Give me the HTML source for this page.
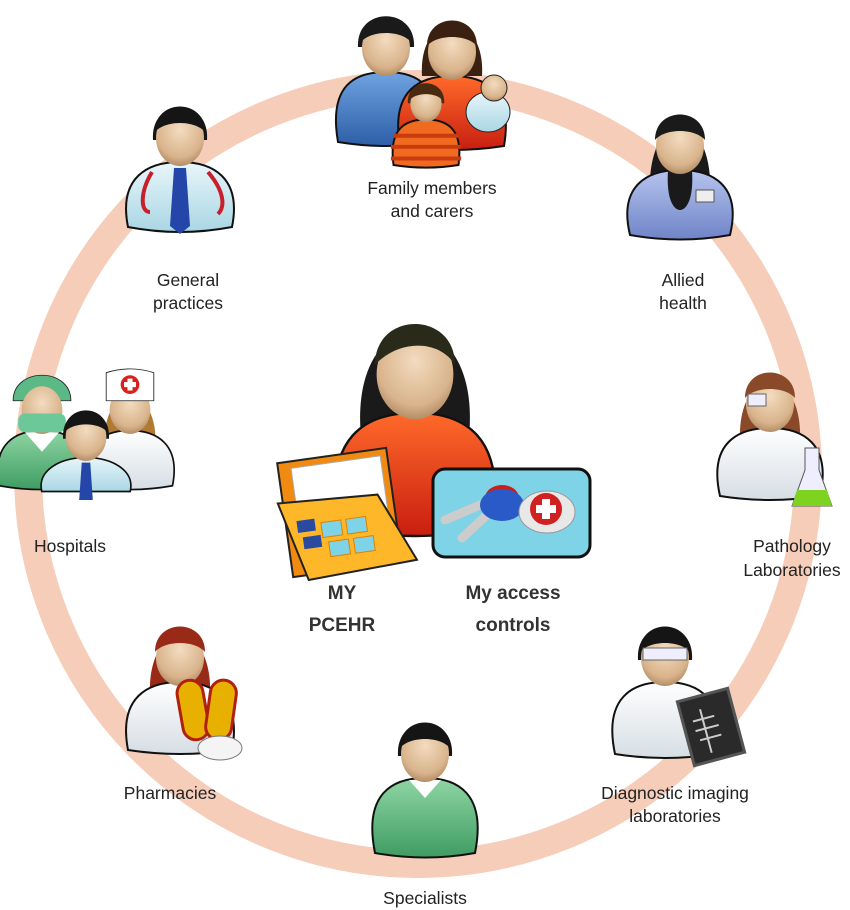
<!DOCTYPE html>
<html><head><meta charset="utf-8"><style>
html,body{margin:0;padding:0;background:#fff;}
svg{display:block;}
text{font-family:"Liberation Sans",sans-serif;font-size:17.5px;fill:#222;text-anchor:middle;}
.big{font-size:19px;font-weight:bold;fill:#333;}
</style></head><body>
<svg width="850" height="910" viewBox="0 0 850 910" xmlns="http://www.w3.org/2000/svg">
<defs>
<radialGradient id="skin" cx="0.5" cy="0.35" r="0.7"><stop offset="0" stop-color="#f3dcc0"/><stop offset="0.7" stop-color="#d9b48c"/><stop offset="1" stop-color="#a8825c"/></radialGradient>
<linearGradient id="red" x1="0" y1="0" x2="0" y2="1"><stop offset="0" stop-color="#ff6a2a"/><stop offset="1" stop-color="#c81e10"/></linearGradient>
<linearGradient id="wht" x1="0" y1="0" x2="0" y2="1"><stop offset="0" stop-color="#ffffff"/><stop offset="1" stop-color="#d6dee4"/></linearGradient>
<linearGradient id="lb" x1="0" y1="0" x2="0" y2="1"><stop offset="0" stop-color="#e8f6fa"/><stop offset="1" stop-color="#a9d6e4"/></linearGradient>
<linearGradient id="blu" x1="0" y1="0" x2="0" y2="1"><stop offset="0" stop-color="#6fa3e0"/><stop offset="1" stop-color="#2d5ea8"/></linearGradient>
<linearGradient id="lav" x1="0" y1="0" x2="0" y2="1"><stop offset="0" stop-color="#b6c4ee"/><stop offset="1" stop-color="#6f84c8"/></linearGradient>
<linearGradient id="grn" x1="0" y1="0" x2="0" y2="1"><stop offset="0" stop-color="#8fd6a4"/><stop offset="1" stop-color="#3f9c62"/></linearGradient>
</defs>

<circle cx="418" cy="474" r="390" fill="none" stroke="#f6cdb9" stroke-width="28"/>

<!-- Family -->
<g transform="translate(386,42)">
<path d="M-28,5 C-30,-36 30,-36 28,5 Z" fill="#1a1a1a"/>
<path d="M-48,100 C-58,42 -30,30 0,30 C30,30 58,42 48,100 Q0,108 -48,100 Z" fill="url(#blu)" stroke="#111" stroke-width="2"/>
<ellipse cx="0" cy="6" rx="24" ry="28" fill="url(#skin)"/>
<path d="M-25,0 C-25,-34 25,-34 25,0 C15,-12 -15,-12 -25,0 Z" fill="#1a1a1a"/>
</g>
<g transform="translate(452,46)">
<path d="M-30,30 C-34,-38 34,-38 30,30 Z" fill="#3a2010"/>
<path d="M-52,100 C-62,42 -30,30 0,30 C30,30 62,42 52,100 Q0,108 -52,100 Z" fill="url(#red)" stroke="#111" stroke-width="2"/>
<ellipse cx="0" cy="6" rx="24" ry="28" fill="url(#skin)"/>
<path d="M-25,0 C-25,-34 25,-34 25,0 C15,-12 -15,-12 -25,0 Z" fill="#3a2010"/>
</g>
<ellipse cx="488" cy="112" rx="22" ry="20" fill="url(#lb)" stroke="#222"/>
<circle cx="494" cy="88" r="13" fill="url(#skin)" stroke="#222"/>
<g transform="translate(426,100) scale(0.65)">
<path d="M-28,5 C-30,-36 30,-36 28,5 Z" fill="#4a2a10"/>
<path d="M-50,100 C-58,42 -30,30 0,30 C30,30 58,42 50,100 Q0,108 -50,100 Z" fill="#f06a20" stroke="#111" stroke-width="3"/>
<path d="M-50,55 H50 M-54,72 H54 M-54,90 H54" stroke="#c83a10" stroke-width="6"/>
<ellipse cx="0" cy="6" rx="24" ry="28" fill="url(#skin)"/>
<path d="M-25,0 C-25,-34 25,-34 25,0 C15,-12 -15,-12 -25,0 Z" fill="#4a2a10"/>
</g>
<text x="432" y="194">Family members</text>
<text x="432" y="217">and carers</text>

<!-- GP -->
<g transform="translate(180,132)">
<path d="M-27,8 C-30,-36 30,-36 27,8 Z" fill="#151515"/>
<path d="M-52,95 C-62,45 -32,30 0,30 C32,30 62,45 52,95 Q0,105 -52,95 Z" fill="url(#lb)" stroke="#111" stroke-width="2"/>
<path d="M-6,36 L6,36 L10,94 L0,102 L-10,94 Z" fill="#2346a8"/>
<path d="M-28,40 C-40,60 -40,80 -30,80 M28,40 C45,60 45,75 38,82" stroke="#c8202a" stroke-width="4" fill="none"/>
<ellipse cx="0" cy="6" rx="24" ry="28" fill="url(#skin)"/>
<path d="M-25,0 C-25,-34 25,-34 25,0 C15,-12 -15,-12 -25,0 Z" fill="#151515"/>
</g>
<text x="188" y="286">General</text>
<text x="188" y="309">practices</text>

<!-- Allied -->
<g transform="translate(680,140)">
<path d="M-30,60 C-36,-38 36,-38 30,60 Z" fill="#1a1a1a"/>
<path d="M-50,95 C-62,45 -32,30 0,30 C32,30 62,45 50,95 Q0,104 -50,95 Z" fill="url(#lav)" stroke="#111" stroke-width="2"/>
<path d="M-12,30 C-14,60 -6,70 0,70 C6,70 14,60 12,30 Z" fill="#1a1a1a"/>
<rect x="16" y="50" width="18" height="12" fill="#eee" stroke="#555"/>
<ellipse cx="0" cy="6" rx="24" ry="28" fill="url(#skin)"/>
<path d="M-25,0 C-25,-34 25,-34 25,0 C15,-12 -15,-12 -25,0 Z" fill="#1a1a1a"/>
</g>
<text x="683" y="286">Allied</text>
<text x="683" y="309">health</text>

<!-- Hospitals -->
<g transform="translate(42,405) scale(0.85)">
<path d="M-34,-5 C-34,-45 34,-45 34,-5 Z" fill="#5bb985" stroke="#222"/>
<path d="M-50,95 C-60,45 -30,30 0,30 C30,30 60,45 50,95 Q0,104 -50,95 Z" fill="url(#grn)" stroke="#111" stroke-width="2"/>
<path d="M-20,32 L0,55 L20,32" fill="#fff"/>
<ellipse cx="0" cy="6" rx="24" ry="28" fill="url(#skin)"/>
<rect x="-28" y="10" width="56" height="22" rx="8" fill="#6cc898"/>
</g>
<g transform="translate(130,405) scale(0.85)">
<path d="M-30,50 C-34,-30 34,-30 30,50 Z" fill="#b07a30"/>
<path d="M-50,95 C-60,45 -30,30 0,30 C30,30 60,45 50,95 Q0,104 -50,95 Z" fill="url(#wht)" stroke="#111" stroke-width="2"/>
<ellipse cx="0" cy="6" rx="24" ry="28" fill="url(#skin)"/>
<path d="M-28,-5 L-28,-38 C-10,-44 10,-44 28,-38 L28,-5 Z" fill="#fff" stroke="#222"/>
<circle cx="0" cy="-24" r="11" fill="#d8201c"/>
<path d="M-3,-31 h6 v4 h4 v6 h-4 v4 h-6 v-4 h-4 v-6 h4 z" fill="#fff"/>
</g>
<g transform="translate(86,432) scale(0.85)">
<path d="M-27,8 C-30,-36 30,-36 27,8 Z" fill="#151515"/>
<path d="M-52,70 C-58,45 -30,30 0,30 C30,30 58,45 52,70 Z" fill="url(#lb)" stroke="#111" stroke-width="2"/>
<path d="M-5,36 L5,36 L8,80 L-8,80 Z" fill="#2346a8"/>
<ellipse cx="0" cy="6" rx="24" ry="28" fill="url(#skin)"/>
<path d="M-25,0 C-25,-34 25,-34 25,0 C15,-12 -15,-12 -25,0 Z" fill="#151515"/>
</g>
<text x="70" y="552">Hospitals</text>

<!-- Pathology -->
<g transform="translate(770,398)">
<path d="M-30,45 C-34,-36 34,-36 30,45 Z" fill="#8a4a2a"/>
<path d="M-50,98 C-62,45 -32,30 0,30 C32,30 62,45 50,98 Q0,106 -50,98 Z" fill="url(#wht)" stroke="#111" stroke-width="2"/>
<ellipse cx="0" cy="6" rx="24" ry="28" fill="url(#skin)"/>
<path d="M-25,0 C-25,-34 25,-34 25,0 C15,-12 -15,-12 -25,0 Z" fill="#8a4a2a"/>
<rect x="-22" y="-4" width="18" height="12" fill="#eef" stroke="#666"/>
<path d="M35,50 V72 L22,108 H62 L49,72 V50 Z" fill="#eef" stroke="#555"/>
<path d="M27,92 L22,108 H62 L57,92 Z" fill="#7ed321"/>
</g>
<text x="792" y="552">Pathology</text>
<text x="792" y="576">Laboratories</text>

<!-- Pharmacies -->
<g transform="translate(180,652)">
<path d="M-30,45 C-34,-36 34,-36 30,45 Z" fill="#9a2a18"/>
<path d="M-52,98 C-62,45 -32,30 0,30 C32,30 62,45 52,98 Q0,106 -52,98 Z" fill="url(#wht)" stroke="#111" stroke-width="2"/>
<ellipse cx="0" cy="6" rx="24" ry="28" fill="url(#skin)"/>
<path d="M-25,0 C-25,-34 25,-34 25,0 C15,-12 -15,-12 -25,0 Z" fill="#9a2a18"/>
<rect x="0" y="28" width="26" height="60" rx="13" fill="#e8b000" stroke="#b02010" stroke-width="3" transform="rotate(-10 13 58)"/>
<rect x="28" y="28" width="26" height="60" rx="13" fill="#e8b000" stroke="#b02010" stroke-width="3" transform="rotate(8 41 58)"/>
<ellipse cx="40" cy="96" rx="22" ry="12" fill="#f4f4f4" stroke="#777"/>
</g>
<text x="170" y="799">Pharmacies</text>

<!-- Specialists -->
<g transform="translate(425,748)">
<path d="M-27,8 C-30,-36 30,-36 27,8 Z" fill="#151515"/>
<path d="M-50,105 C-62,45 -32,30 0,30 C32,30 62,45 50,105 Q0,114 -50,105 Z" fill="url(#grn)" stroke="#111" stroke-width="2"/>
<path d="M-16,32 L0,50 L16,32" fill="#fff"/>
<ellipse cx="0" cy="6" rx="24" ry="28" fill="url(#skin)"/>
<path d="M-25,0 C-25,-34 25,-34 25,0 C15,-12 -15,-12 -25,0 Z" fill="#151515"/>
</g>
<text x="425" y="904">Specialists</text>

<!-- Diagnostic -->
<g transform="translate(665,652)">
<path d="M-27,8 C-30,-36 30,-36 27,8 Z" fill="#151515"/>
<path d="M-50,102 C-62,45 -32,30 0,30 C32,30 62,45 50,102 Q0,110 -50,102 Z" fill="url(#wht)" stroke="#111" stroke-width="2"/>
<ellipse cx="0" cy="6" rx="24" ry="28" fill="url(#skin)"/>
<path d="M-25,0 C-25,-34 25,-34 25,0 C15,-12 -15,-12 -25,0 Z" fill="#151515"/>
<rect x="-22" y="-4" width="44" height="12" fill="#eef" stroke="#666"/>
<rect x="20" y="42" width="52" height="66" fill="#2a2a2a" stroke="#555" stroke-width="3" transform="rotate(-15 46 75)"/>
<path d="M40,55 V100 M30,65 H52 M30,75 H54 M32,85 H54" stroke="#ccc" stroke-width="2" transform="rotate(-15 46 75)"/>
</g>
<text x="675" y="799">Diagnostic imaging</text>
<text x="675" y="822">laboratories</text>

<!-- Centre person -->
<g transform="translate(415,368) scale(1.6)">
<path d="M-34,40 C-40,-44 40,-44 34,40 Z" fill="#1a1a1a"/>
<path d="M-48,100 C-58,42 -30,28 0,28 C30,28 58,42 48,100 Q0,110 -48,100 Z" fill="url(#red)" stroke="#111" stroke-width="1.5"/>
<ellipse cx="0" cy="4" rx="24" ry="28" fill="url(#skin)"/>
<path d="M-25,-2 C-25,-36 25,-36 25,-2 C15,-18 -10,-18 -25,-2 Z" fill="#2a2a1a"/>
</g>
<!-- Folder -->
<g transform="rotate(-8 340 515)">
<rect x="285" y="455" width="110" height="115" fill="#f08a10" stroke="#222" stroke-width="2"/>
<rect x="298" y="462" width="90" height="70" fill="#fff" stroke="#aaa"/>
<path d="M280,495 L380,500 L410,570 L300,575 Z" fill="#ffb72a" stroke="#222" stroke-width="2"/>
<g fill="#7fd3e6" stroke="#e08000">
<rect x="320" y="520" width="20" height="15"/><rect x="345" y="520" width="20" height="15"/>
<rect x="325" y="540" width="20" height="15"/><rect x="350" y="540" width="20" height="15"/>
</g>
<g fill="#2a4aa0"><rect x="296" y="515" width="18" height="12"/><rect x="300" y="532" width="18" height="12"/></g>
</g>
<!-- Keys -->
<rect x="433" y="469" width="157" height="88" rx="12" fill="#7fd3e6" stroke="#111" stroke-width="3"/>
<path d="M445,520 L480,505 M462,538 L490,512" stroke="#ccc" stroke-width="9" stroke-linecap="round"/>
<ellipse cx="502" cy="498" rx="17" ry="13" fill="#c8201c"/>
<ellipse cx="502" cy="505" rx="22" ry="16" fill="#2a5ac8"/>
<ellipse cx="547" cy="512" rx="28" ry="21" fill="#e8e8e8" stroke="#999"/>
<circle cx="546" cy="509" r="16" fill="#d02020"/>
<path d="M542,499 h8 v6 h6 v8 h-6 v6 h-8 v-6 h-6 v-8 h6 z" fill="#fff"/>

<text class="big" x="342" y="599">MY</text>
<text class="big" x="342" y="631">PCEHR</text>
<text class="big" x="513" y="599">My access</text>
<text class="big" x="513" y="631">controls</text>
</svg>
</body></html>
